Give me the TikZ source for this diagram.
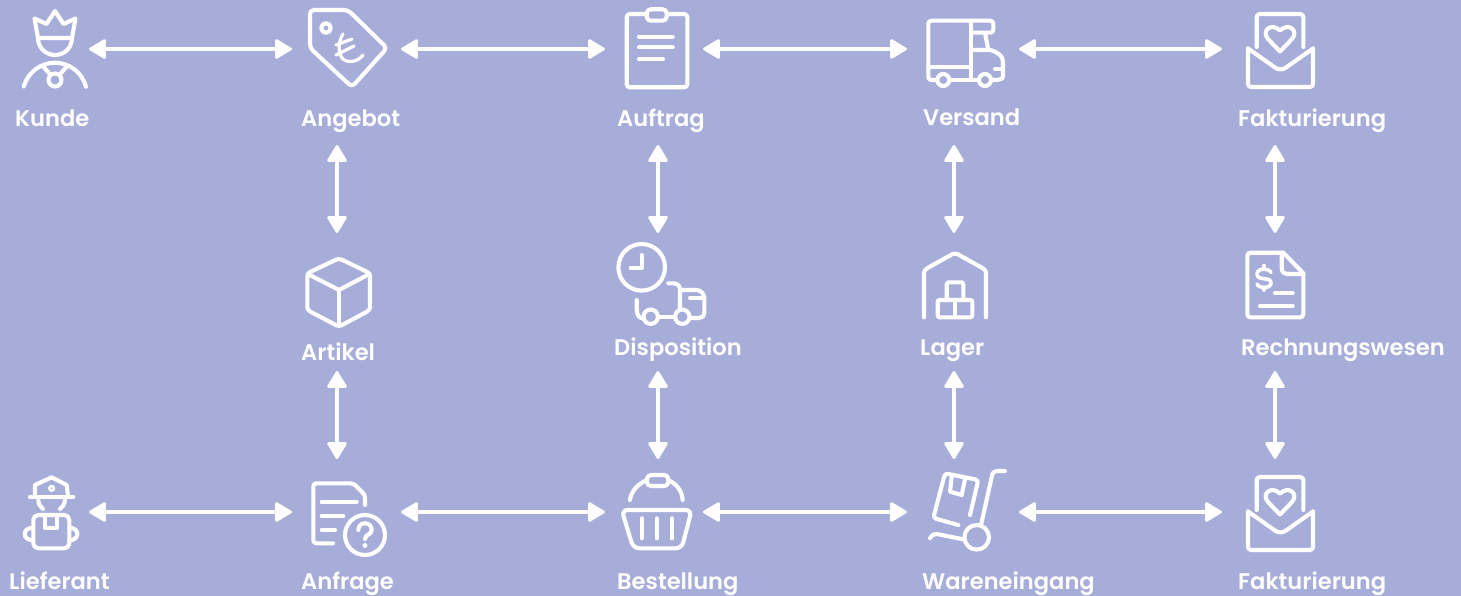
\documentclass[tikz,border=0pt]{standalone}
\usepackage{fontspec}
\setmainfont{Poppins SemiBold}
\usetikzlibrary{arrows.meta}
\definecolor{bgc}{RGB}{166,173,217}
\tikzset{
 x=1pt,y=-1pt,
 ic/.style={draw=white,line width=4.1pt,line cap=round,line join=round,fill=none},
 hub/.style={inner sep=0pt,outer sep=0pt,draw=none,fill=none,rectangle},
 lab/.style={anchor=base west,inner sep=0pt,text=white,font=\fontsize{22.6}{23}\selectfont},
 conn/.style={draw=white,line width=3.8pt,{Triangle[length=18pt,width=21pt,round,line width=2.5pt]}-{Triangle[length=18pt,width=21pt,round,line width=2.5pt]}},
 rc/.style={rounded corners=4pt}
}
\begin{document}
\begin{tikzpicture}
\useasboundingbox (0,0) rectangle (1461,596);
\fill[bgc] (0,0) rectangle (1461,596);
% hubs
\node[hub,minimum width=69pt,minimum height=96pt] (kunde) at (54.5,49) {};
\node[hub,minimum width=109pt,minimum height=192pt] (angebot) at (346.5,49) {};
\node[hub,minimum width=98pt,minimum height=192pt] (auftrag) at (654,49) {};
\node[hub,minimum width=112pt,minimum height=192pt] (versand) at (963,49) {};
\node[hub,minimum width=108pt,minimum height=192pt] (faktA) at (1276,49) {};
\node[hub,minimum width=60pt,minimum height=138pt] (artikel) at (337,302) {};
\node[hub,minimum width=60pt,minimum height=138pt] (disposition) at (658,302) {};
\node[hub,minimum width=60pt,minimum height=138pt] (lager) at (954,302) {};
\node[hub,minimum width=60pt,minimum height=138pt] (rechnung) at (1275,302) {};
\node[hub,minimum width=69pt,minimum height=106pt] (lieferant) at (54.5,512) {};
\node[hub,minimum width=109pt,minimum height=106pt] (anfrage) at (346.5,512) {};
\node[hub,minimum width=98pt,minimum height=106pt] (bestellung) at (654,512) {};
\node[hub,minimum width=112pt,minimum height=106pt] (waren) at (963,512) {};
\node[hub,minimum width=108pt,minimum height=106pt] (faktB) at (1276,512) {};
% connectors
\draw[conn] (kunde.east) -- (angebot.west);
\draw[conn] (angebot.east) -- (auftrag.west);
\draw[conn] (auftrag.east) -- (versand.west);
\draw[conn] (versand.east) -- (faktA.west);
\draw[conn] (lieferant.east) -- (anfrage.west);
\draw[conn] (anfrage.east) -- (bestellung.west);
\draw[conn] (bestellung.east) -- (waren.west);
\draw[conn] (waren.east) -- (faktB.west);
\draw[conn] (angebot.south -| artikel.north) -- (artikel.north);
\draw[conn] (artikel.south) -- (anfrage.north -| artikel.south);
\draw[conn] (auftrag.south -| disposition.north) -- (disposition.north);
\draw[conn] (disposition.south) -- (bestellung.north -| disposition.south);
\draw[conn] (versand.south -| lager.north) -- (lager.north);
\draw[conn] (lager.south) -- (waren.north -| lager.south);
\draw[conn] (faktA.south -| rechnung.north) -- (rechnung.north);
\draw[conn] (rechnung.south) -- (faktB.north -| rechnung.south);
% labels
\node[lab] (lKunde) at (15,127) {Kunde};
\node[lab] (lAngebot) at (301,127) {Angebot};
\node[lab] (lAuftrag) at (617,127) {Auftrag};
\node[lab] (lVersand) at (923,126) {Versand};
\node[lab] (lFaktA) at (1238,127) {Fakturierung};
\node[lab] (lArtikel) at (301,360) {Artikel};
\node[lab] (lDisp) at (614,355) {Disposition};
\node[lab] (lLager) at (920,355) {Lager};
\node[lab] (lRech) at (1241,355) {Rechnungswesen};
\node[lab] (lLief) at (9,589) {Lieferant};
\node[lab] (lAnfr) at (301,589) {Anfrage};
\node[lab] (lBest) at (617,589) {Bestellung};
\node[lab] (lWare) at (922,589) {Wareneingang};
\node[lab] (lFaktB) at (1238,589) {Fakturierung};
% Kunde icon
\draw[ic] (34.5,18.5)--(46.5,24)--(55,11)--(63.5,24)--(75.5,18.5)--(72,38)--(38,38)--cycle;
\draw[ic] (38,38) .. controls (38,48) and (46,55) .. (55,55) .. controls (64,55) and (72,48) .. (72,38);
\draw[ic] (23.7,86.5) .. controls (28,72) and (41,62.7) .. (55,62.7) .. controls (69,62.7) and (82,72) .. (86,86.7);
\draw[ic] (55,80) circle (6.5pt);
\draw[ic] (43.5,67) -- (49,73); \draw[ic] (66.5,67) -- (61,73);
% Tag icon
\draw[ic,rc] (310,10)--(348,10)--(387,48)--(352,87)--(310,48)--cycle;
\draw[ic] (326,28) circle (4.8pt);
\draw[ic,line width=3.2pt] (343,34) .. controls (338,42) and (338,52) .. (342,58) .. controls (347,64) and (358,62) .. (363,55);
\draw[ic,line width=3.2pt] (336,45) -- (352,39);
\draw[ic,line width=3.2pt] (336,55) -- (354,46);
% Clipboard
\draw[ic,rounded corners=3pt] (626.7,14)--(687.3,14)--(687.3,87.3)--(626.7,87.3)--cycle;
\draw[ic,rounded corners=4pt,fill=bgc] (646.7,9.3) rectangle (666.7,20.7);
\draw[ic] (639,36.7)--(672.7,36.7); \draw[ic] (639,47.3)--(672.7,47.3); \draw[ic] (639,59.3)--(663,59.3);
% Truck
\draw[ic,rounded corners=3pt] (936.5,80)--(928.3,80)--(928.3,20.7)--(993.3,20.7)--(993.3,32.7)--(971,32.7);
\draw[ic] (971,20.7)--(971,80); \draw[ic] (928.3,66.7)--(971,66.7); \draw[ic] (950,80)--(978,80);
\draw[ic] (985,33)--(988.3,50); \draw[ic] (971,50)--(990,50) .. controls (998,52) and (1003,56) .. (1003,62) -- (1003,76) .. controls (1003,79) and (1001,80) .. (992,80);
\draw[ic] (995,69.3)--(1003,69.3);
\draw[ic] (943.3,80) circle (6pt); \draw[ic] (985,80) circle (6pt);
% Envelope 1 and 2
\foreach \d in {0,463}{
 \draw[ic,rounded corners=3pt] (1256.7,47+\d)--(1256.7,14+\d)--(1303.3,14+\d)--(1303.3,47+\d);
 \draw[ic,rounded corners=3pt] (1248,48.5+\d)--(1248,87+\d)--(1313,87+\d)--(1313,48.5+\d);
 \draw[ic] (1248,48.5+\d)--(1275,67.5+\d) .. controls (1278,70+\d) and (1283,70+\d) .. (1286,67.5+\d) --(1313,48.5+\d);
 \draw[ic] (1280,51.5+\d) -- (1268,39+\d) .. controls (1261,31+\d) and (1271,22+\d) .. (1280,30.5+\d) .. controls (1289,22+\d) and (1299,31+\d) .. (1292,39+\d) -- cycle;
}
% Cube
\draw[ic,rounded corners=3pt] (339,258.3)--(370,273.3)--(370,310)--(339,326.7)--(307.3,310)--(307.3,273.3)--cycle;
\draw[ic] (307.8,274)--(339,290)--(369.5,274); \draw[ic] (339,290)--(339,326);
% Disposition
\draw[ic] (641.7,267.3) circle (23.3pt);
\draw[ic] (641.7,255)--(641.7,268.3)--(630.7,268.3);
\draw[ic] (636.7,300)--(636.7,309) .. controls (636.7,315) and (639,318) .. (643,318.5);
\draw[ic] (650.7,316.7) circle (7.2pt); \draw[ic] (682.3,316.7) circle (7.2pt);
\draw[ic] (658,316.7)--(675,316.7);
\draw[ic] (668.3,283.3)--(673,283.3) .. controls (678,283.3) and (680,286) .. (680,290)--(680,309);
\draw[ic] (680,290)--(696,290) .. controls (701,290) and (704.3,294) .. (704.3,298)--(704.3,312) .. controls (704.3,316) and (702,318) .. (699,318)--(690,318);
\draw[ic] (690,298.3)--(704,298.3);
% Lager
\draw[ic,rounded corners=3pt] (924,317.3)--(924,270)--(955,252.7)--(986,270)--(986,317.3);
\draw[ic,rounded corners=2pt] (946.7,300)--(946.7,282.3)--(963.3,282.3)--(963.3,300);
\draw[ic,rounded corners=2pt] (937.7,300) rectangle (972.3,317.3);
\draw[ic] (955,300)--(955,317.3);
% Rechnung
\draw[ic,rounded corners=3pt] (1303.3,274)--(1303.3,317.3)--(1247.3,317.3)--(1247.3,252.7)--(1283.3,252.7);
\draw[ic] (1283.3,252.7)--(1303.3,273.3);
\draw[ic] (1281.7,252.7)--(1281.7,268) .. controls (1281.7,272) and (1284,274) .. (1287,274)--(1303.3,274);
\draw[ic,line width=3.6pt] (1271,272.5) .. controls (1269,268) and (1257,267.5) .. (1257,274) .. controls (1257,281.5) and (1271,276) .. (1271,283) .. controls (1271,289) and (1258.5,288.5) .. (1257,284);
\draw[ic,line width=3.6pt] (1264,265.5)--(1264,268); \draw[ic,line width=3.6pt] (1264,287.5)--(1264,290);
\draw[ic] (1275,293.3)--(1292.7,293.3); \draw[ic] (1260,306)--(1292.7,306);
% Lieferant
\draw[ic] (35,496.7)--(35,485)--(51.7,477.3)--(66.7,485)--(68,496.7);
\draw[ic] (30,497.3)--(73.3,497.3);
\draw[ic,line width=2.6pt] (51.7,488.3) circle (2.3pt);
\draw[ic] (38.3,500) .. controls (38.5,504) and (40,507) .. (43,509);
\draw[ic] (65,500) .. controls (64.5,504) and (63,507) .. (60,509);
\draw[ic,rounded corners=5pt] (33.3,515) rectangle (69.3,548.3);
\draw[ic] (45,516)--(45,528)--(56.7,528)--(56.7,516);
\draw[ic] (33,528) .. controls (22,527) and (22,541) .. (33,540);
\draw[ic] (69.3,528) .. controls (80,527) and (80,541) .. (69.3,540);
% Anfrage
\draw[ic,rounded corners=3pt] (333,543.3)--(313.3,543.3)--(313.3,483.3)--(353.3,483.3)--(365,495)--(365,505);
\draw[ic] (321.7,501.7)--(356.7,501.7); \draw[ic] (321.7,516)--(343.3,516); \draw[ic] (321.7,530)--(335,530);
\draw[ic] (365,535) circle (20pt);
\draw[ic] (358.3,530) .. controls (358.3,521) and (371.7,521) .. (371.7,530) .. controls (371.7,535) and (365,534) .. (365,539);
\draw[ic,line width=2pt] (365,545.5) circle (1.6pt);
% Basket
\draw[ic] (630,500) .. controls (631,491) and (638,484) .. (647,480);
\draw[ic] (668,480) .. controls (677,484) and (682,491) .. (682.7,500);
\draw[ic,rounded corners=4pt] (647,475) rectangle (668.3,486);
\draw[ic,rounded corners=6pt] (621.7,510)--(691.7,510)--(681.7,548.3)--(633.3,548.3)--cycle;
\draw[ic] (641.7,518.3)--(641.7,538.3); \draw[ic] (656.7,518.3)--(656.7,538.3); \draw[ic] (671.7,518.3)--(671.7,538.3);
% Wareneingang
\draw[ic,rounded corners=3pt] (958.3,525)--(933.3,518)--(945,473.3)--(978.3,480)--(970,515);
\draw[ic] (951.7,476.7)--(950,491.7)--(961.7,495)--(965,479);
\draw[ic] (1005,471)--(998,471) .. controls (994,471) and (992,473) .. (991.7,477)--(981,525);
\draw[ic] (976.7,537.3) circle (12.3pt);
\draw[ic] (930,538.3) .. controls (932,535) and (934,533.5) .. (937,534)--(964,539.5);
\end{tikzpicture}
\end{document}
